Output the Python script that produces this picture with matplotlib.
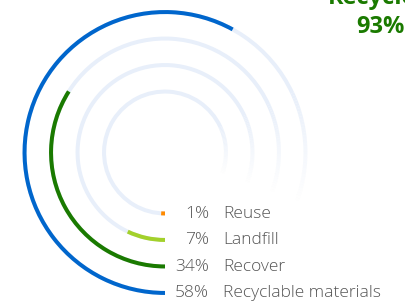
import numpy as np
import matplotlib
matplotlib.use("Agg")
import matplotlib.pyplot as plt
import matplotlib.transforms as mtransforms

# data, inner ring first
categories = ["Reuse", "Landfill", "Recover", "Recyclable materials"]
values = [1, 7, 34, 58]
colors = ["#ff8a00", "#a3d12b", "#1a7a00", "#0066cc"]
recycled = values[0] + values[2] + values[3]

W, H = 406, 302
fig = plt.figure(figsize=(W / 100, H / 100), dpi=100)

# polar axes centered on the rings; radial unit = ring spacing (26.5 px)
cx, cy, R = 165, 152.5, 150
ax = fig.add_axes([(cx - R) / W, (H - cy - R) / H, 2 * R / W, 2 * R / H],
                  projection="polar")
ax.set_theta_zero_location("S")
ax.set_theta_direction(-1)
ax.set_ylim(-2.3, R / 26.5 - 2.3)
ax.axis("off")

lw = 4 / 26.5
track = "#e8effa"

# background tracks, fading out around 3 o'clock
fade_start, fade_end = np.radians(245), np.radians(290)
n_fade = 40
for i in range(len(categories)):
    ax.barh(i, fade_start, left=0, height=lw, color=track, linewidth=0)
    edges = np.linspace(fade_start, fade_end, n_fade + 1)
    for k in range(n_fade):
        a = 1 - (k + 0.5) / n_fade
        ax.barh(i, edges[k + 1] - edges[k], left=edges[k], height=lw,
                color=track, alpha=a, linewidth=0)

# value arcs, 100% = full circle
for i, (v, c) in enumerate(zip(values, colors)):
    ax.barh(i, np.radians(v * 3.6), left=0, height=lw, color=c, linewidth=0)

# labels next to the arc starts
pct_tr = mtransforms.offset_copy(ax.transData, fig=fig, x=44, y=1.5, units="dots")
name_tr = mtransforms.offset_copy(ax.transData, fig=fig, x=58, y=1.5, units="dots")
for i, (name, v) in enumerate(zip(categories, values)):
    ax.text(0, i, f"{v}%", transform=pct_tr, ha="right", va="center_baseline",
            fontsize=12.5, family="Open Sans", fontweight="light", color="#555555")
    ax.text(0, i, name, transform=name_tr, ha="left", va="center_baseline",
            fontsize=12.5, family="Open Sans", fontweight="light", color="#555555")

fig.text(380 / W, 1 - 4 / H, "Recycled", ha="center", va="baseline",
         fontsize=17, fontweight="bold", family="Open Sans", color="#1a7a00")
fig.text(380 / W, 1 - 33 / H, f"{recycled}%", ha="center", va="baseline",
         fontsize=17, fontweight="bold", family="Open Sans", color="#1a7a00")

fig.savefig("out.png", dpi=100)
